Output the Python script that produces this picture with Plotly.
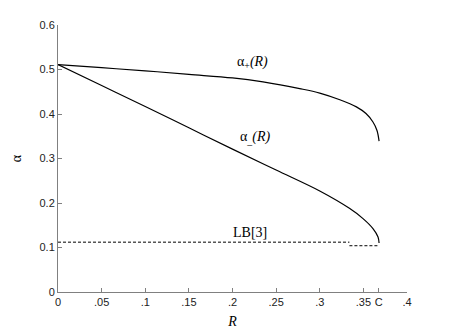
import plotly.graph_objs as go

# alpha_+(R) upper branch
R_plus = [0, 0.05, 0.1, 0.15, 0.2, 0.235, 0.277, 0.300, 0.323, 0.342, 0.353, 0.361, 0.3656, 0.368]
a_plus = [0.511, 0.504, 0.497, 0.489, 0.481, 0.472, 0.457, 0.447, 0.432, 0.416, 0.401, 0.382, 0.363, 0.339]

# alpha_-(R) lower branch
R_minus = [0, 0.05, 0.1, 0.15, 0.2, 0.25, 0.3, 0.334, 0.3496, 0.361, 0.3668, 0.368]
a_minus = [0.511, 0.464, 0.417, 0.369, 0.321, 0.274, 0.227, 0.188, 0.165, 0.1425, 0.1236, 0.110]

# lower bound LB[3] (two pieces)
R_lb = [0, 0.334, None, 0.334, 0.368]
a_lb = [0.112, 0.112, None, 0.104, 0.104]

x_ticks = [0, 0.05, 0.1, 0.15, 0.2, 0.25, 0.3, 0.35, 0.3675, 0.4]
x_labels = ["0", ".05", ".1", ".15", ".2", ".25", ".3", ".35", "C", ".4"]
y_ticks = [0, 0.1, 0.2, 0.3, 0.4, 0.5, 0.6]
y_labels = ["0", "0.1", "0.2", "0.3", "0.4", "0.5", "0.6"]

fig = go.Figure()
fig.add_trace(go.Scatter(x=R_plus, y=a_plus, mode="lines",
                         line=dict(color="black", width=1.2, shape="spline", smoothing=1)))
fig.add_trace(go.Scatter(x=R_minus, y=a_minus, mode="lines",
                         line=dict(color="black", width=1.2, shape="spline", smoothing=1)))
fig.add_trace(go.Scatter(x=R_lb, y=a_lb, mode="lines", connectgaps=False,
                         line=dict(color="black", width=1, dash="3px,2px")))

serif = dict(family="Liberation Serif, Times New Roman, serif", size=14, color="black")
fig.add_annotation(x=0.223, y=0.515, text="α<sub>+</sub><i>(R)</i>", showarrow=False, font=serif)
fig.add_annotation(x=0.226, y=0.348, text="α<sub>_</sub><i>(R)</i>", showarrow=False, font=serif)
fig.add_annotation(x=0.220, y=0.113, yanchor="bottom", text="LB[3]", showarrow=False, font=serif)

axis_common = dict(showgrid=False, zeroline=False, showline=True, linecolor="#808080",
                   linewidth=1, ticks="inside", ticklen=4, tickcolor="#808080", automargin=False,
                   tickfont=dict(family="Liberation Sans, Arial, sans-serif", size=11, color="#222"))

fig.update_xaxes(range=[0, 0.4], tickvals=x_ticks, ticktext=x_labels,
                 title=dict(text="<i>R</i>", font=serif, standoff=8), **axis_common)
fig.update_yaxes(range=[0, 0.6], tickvals=y_ticks, ticktext=y_labels,
                 title=dict(text="α", font=serif, standoff=14), **axis_common)

# page body adds an 8px offset, so the figure is drawn 8px smaller
fig.update_layout(width=442, height=323, showlegend=False,
                  plot_bgcolor="white", paper_bgcolor="white",
                  margin=dict(l=50, r=43, t=17, b=39))

fig.write_html("out.html")
